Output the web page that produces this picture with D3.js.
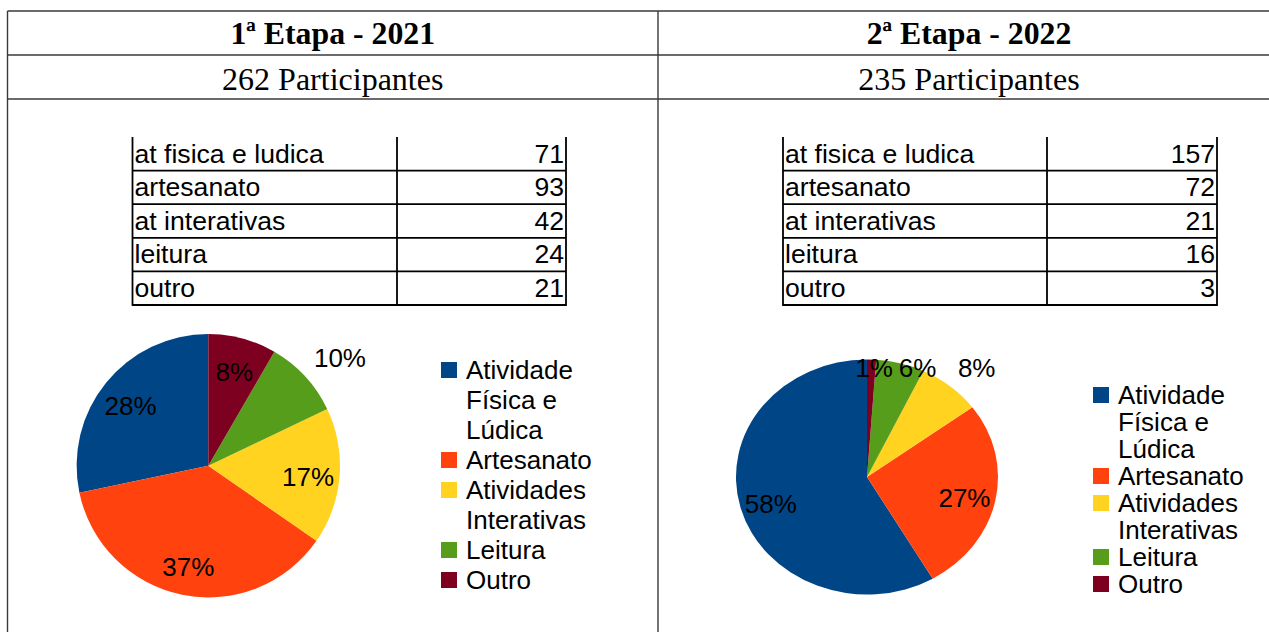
<!DOCTYPE html>
<html>
<head>
<meta charset="utf-8">
<script src="https://cdn.jsdelivr.net/npm/d3@7"></script>
<style>
  html, body { margin: 0; padding: 0; background: #fff; }
  svg { display: block; }
</style>
</head>
<body>
<svg id="chart" width="1269" height="632"></svg>
<script>
// Categories and counts per stage
const categories = ["Atividade Física e Lúdica", "Artesanato", "Atividades Interativas", "Leitura", "Outro"];
const tableLabels = ["at fisica e ludica", "artesanato", "at interativas", "leitura", "outro"];
const values2021 = [71, 93, 42, 24, 21];
const values2022 = [157, 72, 21, 16, 3];
const stageTitles = ["1ª Etapa - 2021", "2ª Etapa - 2022"];
const participants = [262, 235];
const palette = ["#004586", "#ff420e", "#ffd320", "#579d1c", "#7e0021"];

const svg = d3.select("#chart");
const sans = "'Liberation Sans', Arial, sans-serif";
const serif = "'Liberation Serif', 'Times New Roman', serif";

// Outer frame: two columns, header rows
const frame = { left: 7.5, right: 1280, top: 11, row1: 55, row2: 99, bottom: 700, split: 658 };
const fg = svg.append("g").attr("fill", "none").attr("stroke", "#3a3a3a").attr("stroke-width", 1.4);
[frame.top, frame.row1, frame.row2].forEach(y =>
  fg.append("line").attr("x1", frame.left).attr("x2", frame.right).attr("y1", y).attr("y2", y));
[frame.left, frame.split].forEach(x =>
  fg.append("line").attr("x1", x).attr("x2", x).attr("y1", frame.top).attr("y2", frame.bottom));

const colCenters = [(frame.left + frame.split) / 2, (frame.split + frame.right) / 2];
stageTitles.forEach((t, i) => {
  svg.append("text").attr("x", colCenters[i]).attr("y", 44)
    .attr("text-anchor", "middle").attr("font-family", serif)
    .attr("font-weight", "bold").attr("font-size", 31.8).attr("fill", "#000").text(t);
  svg.append("text").attr("x", colCenters[i]).attr("y", 90)
    .attr("text-anchor", "middle").attr("font-family", serif)
    .attr("font-size", 32).attr("fill", "#000").text(`${participants[i]} Participantes`);
});

// Layout of each panel
const panels = [
  { values: values2021, cx: 208.3, cy: 465.7, rx: 131.7, ry: 131.7,
    table: { x0: 132.5, x1: 397, x2: 566 },
    legend: { x: 441, y: 362, lh: 30 }, outside: [3] },
  { values: values2022, cx: 867, cy: 477, rx: 131, ry: 117.5,
    table: { x0: 783, x1: 1047, x2: 1217 },
    legend: { x: 1093, y: 387, lh: 27 }, outside: [2, 3, 4] }
];

const fontSize = 26;
const tableFontSize = 26.6;
const pct = d3.format(".0%");

// text width helper
const measurer = svg.append("text").attr("font-family", sans).attr("font-size", fontSize).attr("visibility", "hidden");
function textWidth(s) { measurer.text(s); return measurer.node().getComputedTextLength(); }

function wrap(label, maxW) {
  const words = label.split(" ");
  const lines = [];
  let cur = "";
  words.forEach(w => {
    const test = cur ? cur + " " + w : w;
    if (cur && textWidth(test) > maxW) { lines.push(cur); cur = w; }
    else cur = test;
  });
  if (cur) lines.push(cur);
  return lines;
}

panels.forEach(p => {
  const g = svg.append("g");

  // Data table
  const rowTop = 137, rowH = 33.6;
  const y = d3.scaleBand().domain(d3.range(tableLabels.length)).range([rowTop, rowTop + rowH * tableLabels.length]).padding(0);
  const tg = g.append("g");
  tableLabels.forEach((lab, i) => {
    tg.append("text").attr("x", p.table.x0 + 2).attr("y", y(i) + 25.5)
      .attr("font-family", sans).attr("font-size", tableFontSize).attr("fill", "#000").text(lab);
    tg.append("text").attr("x", p.table.x2 - 2).attr("y", y(i) + 25.5)
      .attr("text-anchor", "end").attr("font-family", sans).attr("font-size", tableFontSize)
      .attr("fill", "#000").text(p.values[i]);
    tg.append("line").attr("x1", p.table.x0).attr("x2", p.table.x2)
      .attr("y1", y(i) + y.bandwidth()).attr("y2", y(i) + y.bandwidth())
      .attr("stroke", "#000").attr("stroke-width", 1.8);
  });
  [p.table.x0, p.table.x1, p.table.x2].forEach(x =>
    tg.append("line").attr("x1", x).attr("x2", x).attr("y1", rowTop).attr("y2", rowTop + rowH * tableLabels.length + 0.9)
      .attr("stroke", "#000").attr("stroke-width", 1.8));

  // Pie, counter-clockwise from 12 o'clock
  const total = d3.sum(p.values);
  const pie = d3.pie().sort(null).startAngle(0).endAngle(-2 * Math.PI);
  const arcs = pie(p.values);
  const arc = d3.arc().innerRadius(0).outerRadius(p.rx);
  const sy = p.ry / p.rx;

  g.append("g").attr("transform", `translate(${p.cx},${p.cy}) scale(1,${sy})`)
    .selectAll("path").data(arcs).join("path")
    .attr("d", arc).attr("fill", (d, i) => palette[i]);

  // Value labels
  const lg = g.append("g").attr("font-family", sans).attr("font-size", fontSize).attr("fill", "#000");
  arcs.forEach((d, i) => {
    const a = (d.startAngle + d.endAngle) / 2;
    const s = Math.sin(a), c = Math.cos(a);
    const label = pct(d.value / total);
    let lx, ly;
    if (p.outside.includes(i)) {
      const hw = textWidth(label) / 2, hh = 11, off = 12;
      const ex = p.rx * s + off * s, ey = -p.ry * c - off * c;
      const clamp = v => Math.max(-1, Math.min(1, v));
      lx = ex + hw * clamp(3 * s);
      ly = ey - hh * clamp(3 * c);
      ly = Math.max(ly, -p.ry + 8);
    } else {
      lx = 0.76 * p.rx * s;
      ly = -0.76 * p.ry * c + 3;
    }
    lg.append("text").attr("x", p.cx + lx).attr("y", p.cy + ly)
      .attr("text-anchor", "middle").attr("dy", "0.36em").text(label);
  });

  // Legend
  const leg = g.append("g").attr("font-family", sans).attr("font-size", fontSize).attr("fill", "#000");
  let line = 0;
  categories.forEach((cat, i) => {
    const top = p.legend.y + line * p.legend.lh;
    leg.append("rect").attr("x", p.legend.x).attr("y", top).attr("width", 16).attr("height", 16)
      .attr("fill", palette[i]);
    const lines = wrap(cat, 138);
    lines.forEach((ln, k) => {
      leg.append("text").attr("x", p.legend.x + 25).attr("y", top + 17 + k * p.legend.lh).text(ln);
    });
    line += lines.length;
  });
});
measurer.remove();
</script>
</body>
</html>
